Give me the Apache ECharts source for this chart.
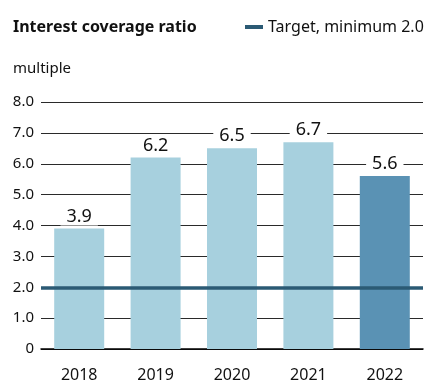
<!DOCTYPE html>
<html>
<head>
<meta charset="utf-8">
<script src="https://cdn.jsdelivr.net/npm/echarts@6/dist/echarts.min.js"></script>
<style>
  html, body { margin: 0; padding: 0; background: #fff; }
  #chart { width: 424px; height: 383px; }
</style>
</head>
<body>
<div id="chart"></div>
<script>
// Interest coverage ratio by year, with the minimum target line
const years = ['2018', '2019', '2020', '2021', '2022'];
const coverage = [3.9, 6.2, 6.5, 6.7, 5.6];
const targetValue = 2.0;
const targetName = 'Target, minimum 2.0';
const yTicks = [0, 1, 2, 3, 4, 5, 6, 7, 8];

const FONT = '"Noto Sans", "Open Sans", sans-serif';
const LIGHT = '#a7d0de';
const DARK = '#5a92b4';
const TARGET = '#2b5a74';

const chart = echarts.init(document.getElementById('chart'), null, { renderer: 'canvas' });

chart.setOption({
  animation: false,
  textStyle: { fontFamily: FONT },
  title: [
    {
      text: 'Interest coverage ratio',
      left: 8, top: 14,
      textStyle: { fontFamily: FONT, fontSize: 16, fontWeight: 'bold', color: '#111' }
    },
    {
      text: 'multiple',
      left: 8, top: 56,
      textStyle: { fontFamily: FONT, fontSize: 15, fontWeight: 'normal', color: '#111' }
    }
  ],
  legend: {
    left: 240, top: 14,
    icon: 'rect',
    itemWidth: 18, itemHeight: 4,
    itemGap: 7,
    data: [{ name: targetName, itemStyle: { color: TARGET } }],
    textStyle: { fontFamily: FONT, fontSize: 16, color: '#111', padding: [0, 0, 0, 0] }
  },
  grid: { left: 41, right: 1, top: 102, bottom: 33 },
  xAxis: {
    type: 'category',
    data: years,
    axisLine: { show: true, lineStyle: { color: '#000', width: 1.5 } },
    axisTick: { show: false },
    axisLabel: { color: '#111', fontSize: 16, fontFamily: FONT, margin: 18 }
  },
  yAxis: {
    type: 'value',
    min: yTicks[0],
    max: yTicks[yTicks.length - 1],
    interval: 1,
    axisLine: { show: false },
    axisTick: { show: false },
    splitLine: { show: true, lineStyle: { color: '#2a2a2a', width: 1 } },
    axisLabel: {
      color: '#111', fontSize: 15, fontFamily: FONT, margin: 7,
      formatter: v => (v === 0 ? '0' : v.toFixed(1))
    }
  },
  series: [
    {
      name: 'Interest coverage ratio',
      type: 'bar',
      barWidth: 50,
      data: coverage.map((v, i) => ({
        value: v,
        itemStyle: { color: i === coverage.length - 1 ? DARK : LIGHT }
      })),
      label: {
        show: true,
        position: 'top',
        distance: 3,
        formatter: p => p.value.toFixed(1),
        fontFamily: FONT,
        fontSize: 18,
        color: '#111',
        backgroundColor: '#fff',
        padding: [0, 6, 0, 6]
      },
      z: 2
    },
    {
      name: targetName,
      type: 'line',
      data: [],
      itemStyle: { color: TARGET },
      markLine: {
        silent: true,
        symbol: 'none',
        label: { show: false },
        lineStyle: { color: TARGET, width: 3.5, type: 'solid', opacity: 1 },
        data: [{ yAxis: targetValue }]
      },
      z: 5
    }
  ]
});
</script>
</body>
</html>
